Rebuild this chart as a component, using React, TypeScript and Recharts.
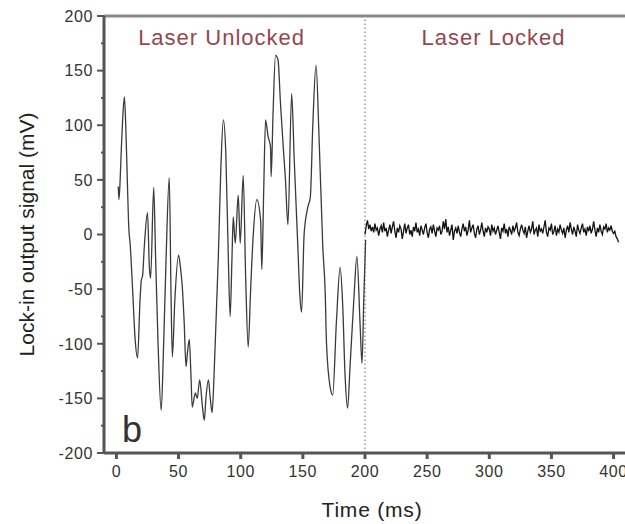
import {
  LineChart,
  Line,
  XAxis,
  YAxis,
  ReferenceLine,
  ReferenceDot,
} from "recharts"

// laser unlocked: time (ms) / lock-in signal (mV), read at the turning points
const unlockedTime = [
  1.5, 2, 3, 4, 5, 6.4, 7.5, 9, 10, 11, 13, 15, 17, 19, 20, 21, 22.5, 25, 26.5, 27.5,
  30, 31.5, 33.5, 36, 38, 40, 42.5, 44, 45, 47, 50, 51.5, 53, 54.5, 56, 57, 58.6, 60,
  61, 63.5, 65, 67, 69, 70.7, 72, 74, 75.5, 77, 78.5, 79.5, 82, 84, 86, 88, 90, 91.5,
  93, 94, 95.6, 98, 99.6, 102, 104, 106, 108, 110, 113, 116, 117, 118.5, 120, 122, 124,
  124.5, 126, 128, 130, 132, 134, 136, 138, 141, 143, 146, 147.5, 149, 151, 154, 156,
  158, 160.6, 163, 166, 168, 169, 172, 174, 177, 180, 182, 184, 186, 188, 191, 193.5,
  196, 197.6, 199, 200.5,
]
const unlockedSignal = [
  44, 32, 50, 80, 105, 126, 100, 40, 5, -8, -50, -95, -113, -60, -42, -38, -10, 20, -30, -40,
  43, -20, -100, -161, -100, -20, 52, -60, -112, -60, -19, -30, -48, -80, -121, -110, -96, -130,
  -158, -145, -150, -133, -155, -170, -150, -133, -150, -163, -130, -99, -20, 60, 105, 75, -20, -75,
  -20, 16, -8, 36, -8, 54, -40, -103, -50, -2, 32, 13, -32, 40, 105, 90, 80,
  53, 110, 164, 160, 120, 84, 50, 9, 129, 70, -12, -54, -71, 0, 25, 34,
  100, 155, 90, -10, -54, -99, -140, -147, -80, -30, -63, -130, -159, -120, -60, -20,
  -81, -118, -60, -5,
]

// laser locked: one reading every 1 ms from 200 ms
const lockedStart = 200
const lockedStep = 1
const lockedSignal = [
  0, 8, 13, 5, 9, 3, 7, 2, 10, 4, 6, -1, 5, 8, 2, 11, 3, 6, -2, 4,
  9, 1, 7, 12, 3, -3, 6, 2, 8, 5, -4, 3, 10, 1, 6, 9, 0, 4, -2, 7,
  3, 11, 2, 5, -1, 8, 4, 0, 6, 10, 2, -3, 5, 7, 1, 9, 3, -2, 6, 4,
  8, 0, 3, 12, 5, 14, 2, 7, -1, 4, 9, -5, 3, 6, 1, 8, 2, -2, 5, 10,
  3, 7, -1, 4, 13, 2, 6, 9, 1, -3, 5, 8, 0, 4, 11, 3, -2, 6, 2, 7,
  5, -1, 9, 3, 6, 0, 4, 8, 2, -4, 6, 3, 10, 1, 5, -2, 7, 4, 0, 8,
  3, 6, 11, 2, -1, 5, 9, 4, 1, 7, -3, 3, 8, 2, 5, 12, 0, 4, 6, -2,
  9, 3, 5, 1, 7, 13, 2, -2, 6, 4, 10, 0, 3, 8, -1, 5, 2, 9, 4, 1,
  6, -3, 4, 8, 2, 11, 5, 0, 7, 3, -2, 9, 4, 1, 6, 10, 2, 5, -1, 7,
  3, 8, 1, 5, 12, 4, -2, 6, 2, 9, 3, 0, 7, 5, 10, 2, 6, 4, 8, 3,
  1, 3, -2, -4, -7,
]

const xTicks = [0, 50, 100, 150, 200, 250, 300, 350, 400]
const yTicks = [
  -200, -175, -150, -125, -100, -75, -50, -25, 0, 25, 50, 75, 100, 125, 150, 175, 200,
]

const unlockedData = unlockedTime.map((t, i) => ({ t, v: unlockedSignal[i] }))
const lockedData = lockedSignal.map((v, i) => ({ t: lockedStart + i * lockedStep, v }))

const FONT = "'Liberation Sans', Arial, sans-serif"
const AXIS = "#555"
const TITLE = "#94484d"
const Y_TICK_SIZE = 7
const Y_TICK_MARGIN = 4

function YTick(props: any) {
  const { x, y, payload } = props
  const major = payload.value % 50 === 0
  const axisX = x + Y_TICK_SIZE + Y_TICK_MARGIN
  return (
    <g>
      <line
        x1={axisX - (major ? Y_TICK_SIZE : 3)}
        x2={axisX}
        y1={y}
        y2={y}
        stroke={AXIS}
        strokeWidth={2}
      />
      {major && (
        <text
          x={x}
          y={y}
          dy="0.36em"
          textAnchor="end"
          fill="#333"
          fontSize={16}
          fontFamily={FONT}
          letterSpacing={0.6}
        >
          {payload.value}
        </text>
      )}
    </g>
  )
}

export default function App() {
  return (
    <div style={{ position: "absolute", left: 0, top: 0, width: 625, height: 524, overflow: "hidden", background: "#fff" }}>
      <LineChart
        width={640}
        height={524}
        margin={{ top: 16, right: 14, bottom: 0, left: 0 }}
        style={{ fontFamily: FONT }}
      >
        <XAxis
          dataKey="t"
          type="number"
          domain={[-10, 410]}
          ticks={xTicks}
          height={71}
          stroke={AXIS}
          strokeWidth={3}
          tickSize={6}
          tickMargin={7}
          tick={{ fill: "#333", fontSize: 16, letterSpacing: 0.6 }}
          label={{
            value: "Time (ms)",
            position: "insideBottom",
            offset: 7,
            dx: 7,
            fill: "#222",
            fontSize: 21,
            letterSpacing: 0.8,
          }}
        />
        <YAxis
          type="number"
          domain={[-200, 200]}
          ticks={yTicks}
          interval={0}
          width={104}
          stroke={AXIS}
          strokeWidth={3}
          tickLine={false}
          tickSize={Y_TICK_SIZE}
          tickMargin={Y_TICK_MARGIN}
          tick={<YTick />}
          label={{
            value: "Lock-in output signal (mV)",
            angle: -90,
            position: "center",
            dx: -25,
            fill: "#222",
            fontSize: 21,
          }}
        />
        <ReferenceLine y={200} stroke="#888" strokeWidth={3} />
        <ReferenceLine x={200} stroke="#999" strokeWidth={1.5} strokeDasharray="1.5 2.5" />
        <ReferenceDot
          x={84.6}
          y={181}
          r={0}
          stroke="none"
          label={{ value: "Laser Unlocked", position: "center", fill: TITLE, fontSize: 22, letterSpacing: 1 }}
        />
        <ReferenceDot
          x={303.4}
          y={181}
          r={0}
          stroke="none"
          label={{ value: "Laser Locked", position: "center", fill: TITLE, fontSize: 22, letterSpacing: 1 }}
        />
        <ReferenceDot
          x={12.5}
          y={-178}
          r={0}
          stroke="none"
          label={{ value: "b", position: "center", fill: "#333", fontSize: 36 }}
        />
        <Line
          data={unlockedData}
          dataKey="v"
          type="monotone"
          stroke="#3a3a3a"
          strokeWidth={1.3}
          dot={false}
          isAnimationActive={false}
        />
        <Line
          data={lockedData}
          dataKey="v"
          type="linear"
          stroke="#111"
          strokeWidth={1.3}
          dot={false}
          isAnimationActive={false}
        />
      </LineChart>
    </div>
  )
}
